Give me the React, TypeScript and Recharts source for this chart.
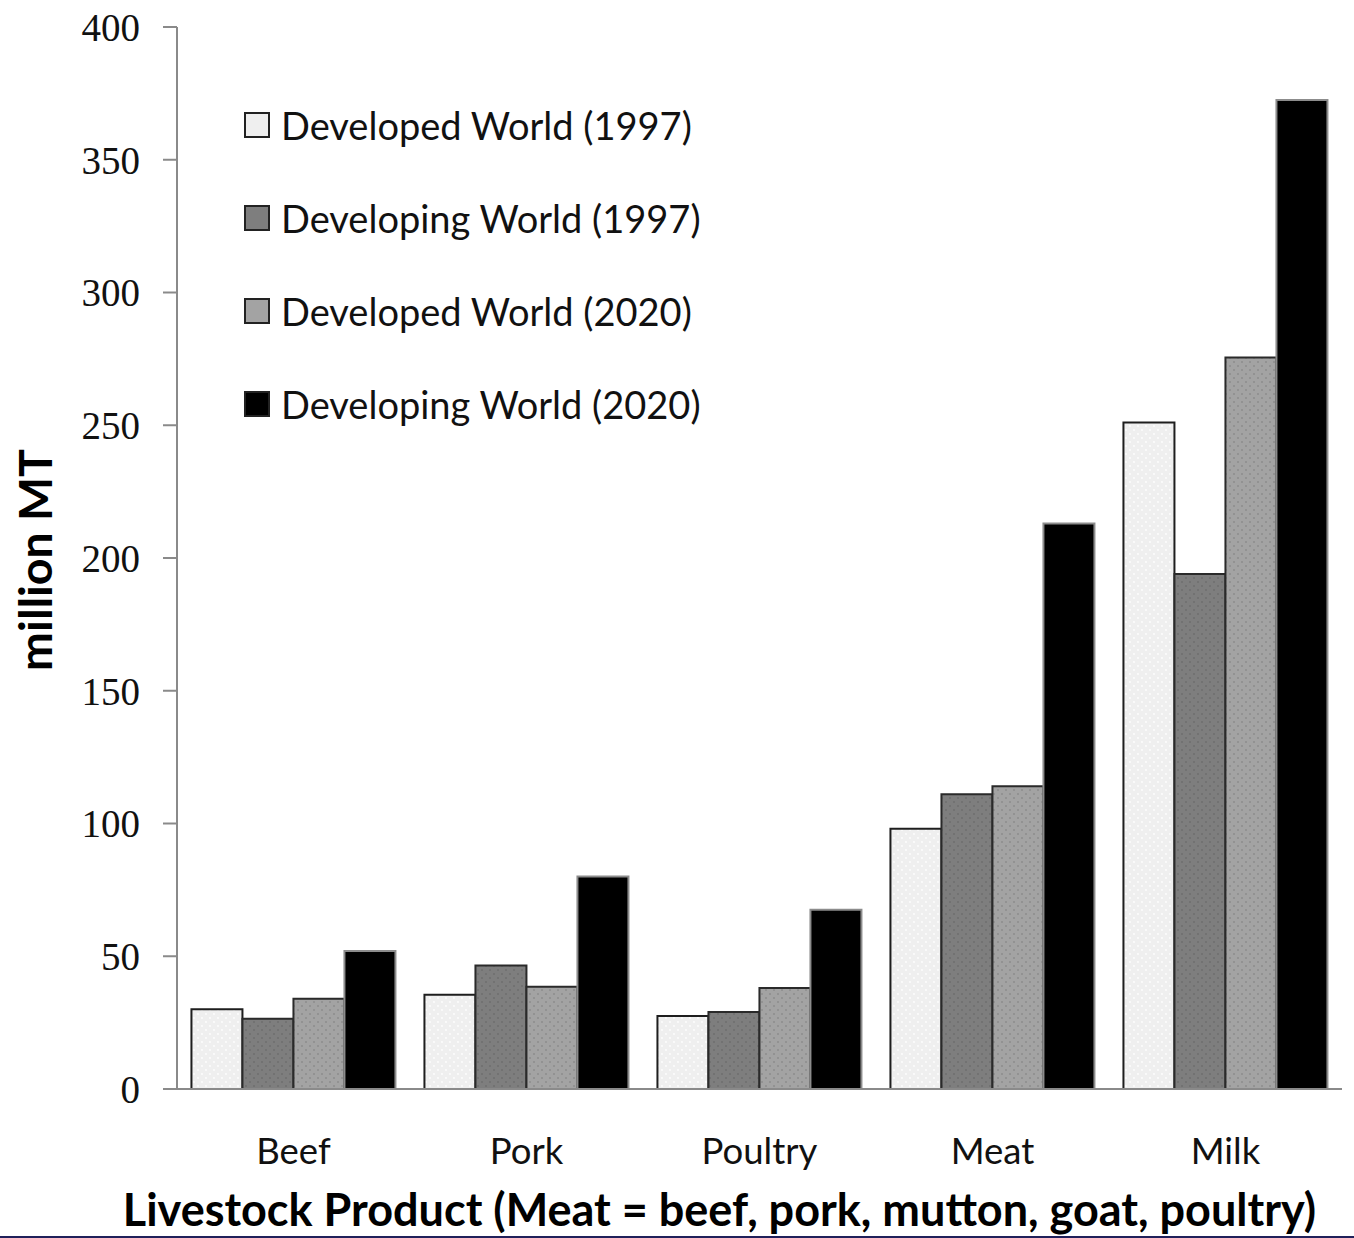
import { BarChart, Bar, XAxis, YAxis, Label } from "recharts";

const products = ["Beef", "Pork", "Poultry", "Meat", "Milk"];
const developed1997 = [30, 35.5, 27.5, 98, 251];
const developing1997 = [26.5, 46.5, 29, 111, 194];
const developed2020 = [34, 38.5, 38, 114, 275.5];
const developing2020 = [52, 80, 67.5, 213, 372.5];
const yTicks = [0, 50, 100, 150, 200, 250, 300, 350, 400];

const SERIES = [
    { key: "dev97", name: "Developed World (1997)", values: developed1997, bg: "#efefef", dot: "#ffffff", stroke: "#1e1e1e" },
    { key: "dvg97", name: "Developing World (1997)", values: developing1997, bg: "#7e7e7e", dot: "#6c6c6c", stroke: "#2a2a2a" },
    { key: "dev20", name: "Developed World (2020)", values: developed2020, bg: "#a3a3a3", dot: "#8a8a8a", stroke: "#2a2a2a" },
    { key: "dvg20", name: "Developing World (2020)", values: developing2020, bg: "#000000", dot: "#000000", stroke: "#8c8c8c" },
];

const data = products.map((p, i) => {
    const row: Record<string, string | number> = { product: p };
    SERIES.forEach((s) => {
        row[s.key] = s.values[i];
    });
    return row;
});

const SANS = "Lato, 'Noto Sans', sans-serif";

// small dotted texture used for the grey fills
function Dots({ id, bg, dot }: { id: string; bg: string; dot: string }) {
    return (
        <pattern id={id} width={8} height={8} patternUnits="userSpaceOnUse">
            <rect width={8} height={8} fill={bg} />
            <circle cx={2} cy={2} r={0.9} fill={dot} />
            <circle cx={6} cy={6} r={0.9} fill={dot} />
        </pattern>
    );
}

export default function App() {
    return (
        <div style={{ position: "absolute", left: 0, top: 0, width: 1354, height: 1238, background: "#fff" }}>
            <BarChart
                width={1354}
                height={1238}
                data={data}
                margin={{ top: 27, right: 12, left: 0, bottom: 0 }}
                barCategoryGap="6.2%"
                barGap={0}
            >
                <defs>
                    {SERIES.map((s) => (
                        <Dots key={s.key} id={`fill-${s.key}`} bg={s.bg} dot={s.dot} />
                    ))}
                </defs>
                <XAxis
                    dataKey="product"
                    height={149}
                    tickLine={false}
                    tickSize={0}
                    tickMargin={49}
                    axisLine={{ stroke: "#8a8a8a", strokeWidth: 2 }}
                    tick={{ fill: "#111", fontSize: 36.5, fontFamily: SANS }}
                >
                    <Label
                        content={({ viewBox }: any) => (
                            <text
                                x={viewBox.x + viewBox.width / 2 - 40}
                                y={viewBox.y + 137}
                                textAnchor="middle"
                                fontFamily={SANS}
                                fontWeight="bold"
                                fontSize={45}
                                fill="#000"
                            >
                                Livestock Product (Meat = beef, pork, mutton, goat, poultry)
                            </text>
                        )}
                    />
                </XAxis>
                <XAxis
                    xAxisId="top"
                    orientation="top"
                    dataKey="product"
                    height={0}
                    tick={false}
                    tickLine={false}
                    axisLine={{ stroke: "#222", strokeWidth: 2 }}
                />
                <YAxis
                    width={177}
                    domain={[0, 400]}
                    ticks={yTicks}
                    interval={0}
                    tickSize={14}
                    tickMargin={23}
                    tickLine={{ stroke: "#8a8a8a", strokeWidth: 2 }}
                    axisLine={{ stroke: "#8a8a8a", strokeWidth: 2 }}
                    tick={{ fill: "#111", fontSize: 39, fontFamily: "'Liberation Serif', serif" }}
                >
                    <Label
                        content={({ viewBox }: any) => {
                            const x = viewBox.x + 52;
                            const y = viewBox.y + viewBox.height / 2 + 2;
                            return (
                                <text
                                    x={x}
                                    y={y}
                                    transform={`rotate(-90 ${x} ${y})`}
                                    textAnchor="middle"
                                    fontFamily={SANS}
                                    fontWeight="bold"
                                    fontSize={46.5}
                                    fill="#000"
                                >
                                    million MT
                                </text>
                            );
                        }}
                    />
                </YAxis>
                <YAxis
                    yAxisId="right"
                    orientation="right"
                    width={0}
                    domain={[0, 400]}
                    tick={false}
                    tickLine={false}
                    axisLine={{ stroke: "#444", strokeWidth: 2 }}
                />
                {SERIES.map((s) => (
                    <Bar
                        key={s.key}
                        dataKey={s.key}
                        name={s.name}
                        fill={`url(#fill-${s.key})`}
                        stroke={s.stroke}
                        strokeWidth={2}
                        isAnimationActive={false}
                    />
                ))}
            </BarChart>

            {/* legend sits inside the plot frame, top-left */}
            <div style={{ position: "absolute", left: 244, top: 98 }}>
                {SERIES.map((s) => (
                    <div key={s.key} style={{ display: "flex", alignItems: "center", height: 54, marginBottom: 39 }}>
                        <svg width={26} height={26} style={{ marginRight: 11 }}>
                            <rect x={1} y={1} width={24} height={24} fill={s.bg} stroke="#222" strokeWidth={2} />
                        </svg>
                        <span style={{ fontFamily: SANS, fontSize: 38, color: "#111", whiteSpace: "nowrap" }}>{s.name}</span>
                    </div>
                ))}
            </div>
            <div style={{ position: "absolute", left: 0, bottom: 0, width: 1354, height: 2, background: "#20205a" }} />
        </div>
    );
}
